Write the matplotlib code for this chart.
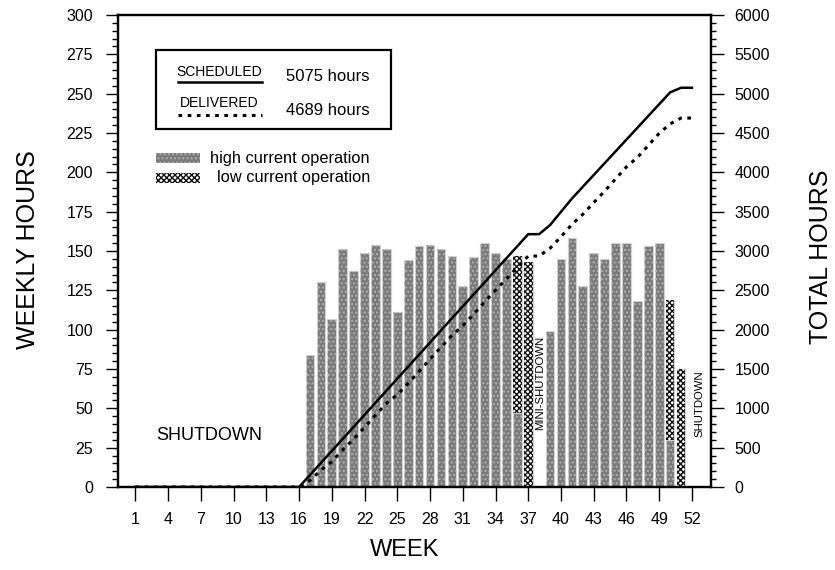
import numpy as np
import matplotlib.pyplot as plt
from matplotlib.ticker import MultipleLocator
from matplotlib.lines import Line2D
from matplotlib.patches import Rectangle

plt.rcParams['font.family'] = ['Liberation Sans', 'DejaVu Sans']
plt.rcParams['hatch.linewidth'] = 1.0

weeks = np.arange(1, 53)

# weekly delivered hours (bar height), weeks 1..52
delivered = ([0] * 16 +
             [84, 130, 107, 151, 137, 149, 154, 151, 111, 144, 153,
              154, 151, 147, 128, 146, 155, 149, 145, 147, 143] +
             [0] +
             [99, 145, 158, 128, 149, 145, 155, 155, 118, 153, 155, 119, 75] +
             [0])

# part of each week run at low current (top of the bar)
low_current = [0] * 52
low_current[35] = 100   # week 36
low_current[36] = 143   # week 37
low_current[49] = 89    # week 50
low_current[50] = 75    # week 51

# weekly scheduled hours, weeks 1..52
scheduled = ([0] * 16 +
             [153, 153, 153, 153, 153, 153, 153, 153, 153, 153, 154,
              153, 153, 153, 153, 153, 153, 153, 153, 153, 153] +
             [0] +
             [116, 168, 168, 150, 150, 150, 150, 150, 150, 150, 150, 150, 59] +
             [0])

delivered = np.array(delivered)
low_current = np.array(low_current)
high_current = delivered - low_current

fig = plt.figure(figsize=(8.35, 5.70), dpi=100)
ax = fig.add_axes([0.1413, 0.1456, 0.7102, 0.8281])

hc_face, hc_hatch = '#7a7a7a', '#b0b0b0'
lc_face, lc_hatch = 'white', '#111111'
m = high_current > 0
ax.bar(weeks[m], high_current[m], width=0.8, color=hc_face,
       edgecolor='#d4d4d4', linewidth=0.8, zorder=2)
ax.bar(weeks[m], high_current[m], width=0.8, color='none',
       edgecolor=hc_hatch, hatch='....', linewidth=0, zorder=3)
m = low_current > 0
ax.bar(weeks[m], low_current[m], bottom=high_current[m], width=0.8,
       color=lc_face, edgecolor='#d4d4d4', linewidth=0.8, zorder=2)
ax.bar(weeks[m], low_current[m], bottom=high_current[m], width=0.8,
       color='none', edgecolor=lc_hatch, hatch='xxxxxx', linewidth=0, zorder=3)

ax.set_xlim(-0.6, 53.75)
ax.set_ylim(0, 300)
ax.set_xticks(range(1, 53, 3))
ax.yaxis.set_major_locator(MultipleLocator(25))
ax.yaxis.set_minor_locator(MultipleLocator(5))
ax.tick_params(axis='x', direction='out', length=10, width=1, pad=8,
               labelsize=11.5)
ax.tick_params(axis='y', which='major', direction='out', length=9, width=1,
               pad=9, labelsize=11.5)
ax.tick_params(axis='y', which='minor', direction='out', length=4.5,
               width=1)
for s in ax.spines.values():
    s.set_linewidth(1.6)

ax2 = ax.twinx()
ax2.plot(weeks, np.cumsum(scheduled), color='black', lw=1.8, zorder=5)
ax2.plot(weeks, np.cumsum(delivered), color='black', lw=2.2,
         linestyle=(0, (1.2, 1.8)), zorder=5)
ax2.set_ylim(0, 6000)
ax2.yaxis.set_major_locator(MultipleLocator(500))
ax2.yaxis.set_minor_locator(MultipleLocator(100))
ax2.tick_params(axis='y', which='major', direction='out', length=9, width=1,
                pad=8, labelsize=11.5)
ax2.tick_params(axis='y', which='minor', direction='out', length=3.5,
                width=1)
for s in ax2.spines.values():
    s.set_linewidth(1.6)

# annotations
ax.text(7.74, 33, 'SHUTDOWN', fontsize=13, ha='center', va='center')
ax.text(38.08, 66, 'MINI-SHUTDOWN', fontsize=8.2, rotation=90,
        ha='center', va='center')
ax.text(52.74, 53, 'SHUTDOWN', fontsize=8.2, rotation=90,
        ha='center', va='center')

# legend box
tr = ax.transAxes
ax.add_patch(Rectangle((0.0641, 0.7578), 0.3958, 0.168, fill=False,
                       lw=1.6, transform=tr, zorder=6))
ax.text(0.1703, 0.8786, 'SCHEDULED', fontsize=10, ha='center',
        va='center', transform=tr)
ax.add_line(Line2D([0.1007, 0.2423], [0.8574, 0.8574], color='black',
                   lw=1.8, transform=tr))
ax.text(0.2828, 0.8693, '5075 hours', fontsize=12, ha='left',
        va='center', transform=tr)
ax.text(0.1703, 0.8129, 'DELIVERED', fontsize=10, ha='center',
        va='center', transform=tr)
ax.add_line(Line2D([0.1007, 0.2423], [0.7881, 0.7881], color='black',
                   lw=2.2, linestyle=(0, (1.2, 1.8)), transform=tr))
ax.text(0.2828, 0.7987, '4689 hours', fontsize=12, ha='left',
        va='center', transform=tr)

ax.add_patch(Rectangle((0.0641, 0.6871), 0.0742, 0.0199, facecolor=hc_face,
                       edgecolor='none', transform=tr))
ax.add_patch(Rectangle((0.0641, 0.6871), 0.0742, 0.0199, facecolor='none',
                       edgecolor=hc_hatch, hatch='....', lw=0, transform=tr))
ax.text(0.1551, 0.6970, 'high current operation', fontsize=11.8, ha='left',
        va='center', transform=tr)
ax.add_patch(Rectangle((0.0641, 0.6447), 0.0742, 0.0206, facecolor=lc_face,
                       edgecolor='none', transform=tr))
ax.add_patch(Rectangle((0.0641, 0.6447), 0.0742, 0.0206, facecolor='none',
                       edgecolor=lc_hatch, hatch='xxxxxx', lw=0, transform=tr))
ax.text(0.1675, 0.6547, 'low current operation', fontsize=11.8, ha='left',
        va='center', transform=tr)

fig.text(28 / 835, 0.5614, 'WEEKLY HOURS', fontsize=18, rotation=90,
         ha='center', va='center')
fig.text(821 / 835, 0.549, 'TOTAL HOURS', fontsize=18, rotation=90,
         ha='center', va='center')
fig.text(0.485, 0.035, 'WEEK', fontsize=17, ha='center', va='center')

fig.savefig('out.png', dpi=100)
